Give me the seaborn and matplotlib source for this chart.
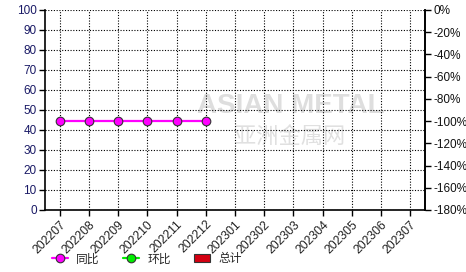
import numpy as np
import pandas as pd
import matplotlib
matplotlib.use("Agg")
import matplotlib.pyplot as plt
import seaborn as sns
from matplotlib.lines import Line2D
from matplotlib.patches import Patch

months = ["202207", "202208", "202209", "202210", "202211", "202212",
          "202301", "202302", "202303", "202304", "202305", "202306", "202307"]
yoy = [44.5, 44.5, 44.5, 44.5, 44.5, 44.5, None, None, None, None, None, None, None]
left_ticks = [0, 10, 20, 30, 40, 50, 60, 70, 80, 90, 100]
right_ticks = [0, -20, -40, -60, -80, -100, -120, -140, -160, -180]
legend_labels = ["同比", "环比", "总计"]

sns.set_style("white")
plt.rcParams['font.family'] = ['Liberation Sans', 'Noto Sans CJK SC', 'DejaVu Sans']

fig = plt.figure(figsize=(4.66, 2.72), dpi=100)
ax = fig.add_axes([45/466, 1-210/272, 380/466, 200/272])

df = pd.DataFrame({"x": np.arange(len(months)), "y": pd.array(yoy, dtype="Float64").astype(float)})
df = df.dropna()
sns.lineplot(data=df, x="x", y="y", ax=ax, color="#FF00FF", lw=1.6, marker="o",
             markersize=6.2, markerfacecolor="#FF00FF", markeredgecolor="#333333",
             markeredgewidth=0.8, zorder=5)

ax.set_xlim(-0.5, len(months) - 0.5)
ax.set_ylim(0, 100)
ax.set_xticks(range(len(months)))
ax.set_xticklabels(months, rotation=45, ha="right", rotation_mode="anchor", fontsize=8.8, color="#222222")
ax.set_yticks(left_ticks)
ax.set_yticklabels([str(v) for v in left_ticks], fontsize=8.5, color="#1a1a66")
ax.set_xlabel("")
ax.set_ylabel("")
ax.grid(True, color="black", linestyle=(0, (1, 1.5)), linewidth=0.8)
ax.tick_params(axis="both", direction="out", length=4, width=1, color="black", pad=2, bottom=True, left=True)
for s in ["left", "bottom", "right"]:
    ax.spines[s].set_color("black")
    ax.spines[s].set_linewidth(1.2)
ax.spines["top"].set_visible(False)

ax2 = ax.twinx()
ax2.set_ylim(-180, 0)
ax2.set_yticks(right_ticks)
ax2.set_yticklabels([f"{v}%" for v in right_ticks], fontsize=8.5, color="#111111")
ax2.tick_params(axis="y", direction="out", length=4, width=1, color="black", pad=2, right=True)
for s in ["left", "bottom", "top"]:
    ax2.spines[s].set_visible(False)
ax2.spines["right"].set_color("black")
ax2.spines["right"].set_linewidth(1.2)

# watermark
ax.text(0.647, 0.52, "ASIAN METAL", transform=ax.transAxes, fontsize=20, color="#dedede",
        ha="center", va="center", zorder=0, fontweight="bold")
ax.text(0.645, 0.37, "亚洲金属网", transform=ax.transAxes, fontsize=16, color="#e0e0e0",
        ha="center", va="center", zorder=0, family=['Noto Sans CJK SC', 'DejaVu Sans'])

handles = [
    Line2D([0], [0], color="#FF00FF", lw=1.6, marker="o", markersize=6.2,
           markerfacecolor="#FF00FF", markeredgecolor="#333333", markeredgewidth=0.8),
    Line2D([0], [0], color="#00EE00", lw=1.6, marker="o", markersize=6.2,
           markerfacecolor="#00EE00", markeredgecolor="#333333", markeredgewidth=0.8),
    Patch(facecolor="#D40012", edgecolor="#333333", linewidth=0.8),
]
fig.legend(handles, legend_labels, loc="center", bbox_to_anchor=(0.315, 0.048), ncol=3,
           frameon=False, handlelength=1.35, handletextpad=0.7, columnspacing=2.0,
           prop={'family': ['Noto Sans CJK SC', 'DejaVu Sans'], 'size': 8.5})

fig.savefig("out.png", dpi=100)
